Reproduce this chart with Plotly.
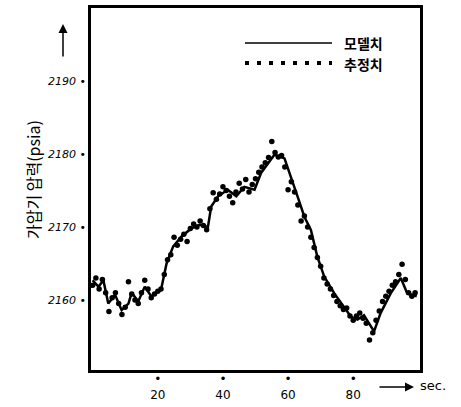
import plotly.graph_objects as go

# model curve (모델치)
model_t = [0, 1.8, 3.3, 4.8, 6.9, 8.9, 11, 12, 14, 16, 18, 21, 22.7, 24.7, 27.3, 30.3,
           32.9, 35.4, 36.4, 38.5, 41.5, 44.1, 46.6, 49.7, 51.7, 53.8, 55.8, 58.9, 60.9,
           62.9, 65, 67, 69, 71.1, 74.2, 77.2, 79.3, 81.3, 83.3, 86.4, 88.4, 91.5, 94.6,
           96.6, 99.5]
model_v = [2162.7, 2161.8, 2162.7, 2159.5, 2160.7, 2158.6, 2159.5, 2161.0, 2159.8, 2161.8,
           2160.5, 2161.4, 2165.0, 2167.3, 2168.7, 2169.8, 2170.3, 2170.0, 2172.8, 2174.2,
           2175.1, 2174.2, 2175.5, 2175.1, 2177.4, 2178.7, 2179.9, 2179.4, 2176.9, 2174.2,
           2171.4, 2169.6, 2165.9, 2163.2, 2160.9, 2159.1, 2157.7, 2157.3, 2157.9, 2155.7,
           2158.2, 2160.9, 2163.0, 2160.9, 2160.5]

# measured / estimated points (추정치)
meas_t = list(range(100))
meas_v = [2162.0, 2163.0, 2161.5, 2162.8, 2161.0, 2158.4, 2160.3, 2161.0, 2159.5, 2158.0,
          2159.0, 2162.5, 2160.8, 2160.0, 2159.5, 2161.0, 2162.7, 2161.5, 2160.3, 2160.8,
          2161.2, 2161.5, 2163.5, 2165.5, 2166.2, 2168.6, 2167.5, 2168.3, 2169.0, 2168.0,
          2169.8, 2170.4, 2170.0, 2170.8, 2170.2, 2169.6, 2172.5, 2174.7, 2173.8, 2174.5,
          2175.5, 2175.0, 2174.2, 2173.3, 2174.8, 2176.0, 2175.2, 2176.5, 2174.8, 2175.8,
          2176.6, 2177.5, 2178.2, 2178.8, 2179.5, 2181.7, 2180.2, 2179.6, 2179.8, 2178.2,
          2175.1, 2176.2, 2174.8, 2173.0, 2170.8, 2171.5, 2170.0, 2168.6, 2167.2, 2165.8,
          2164.6, 2163.0, 2162.2, 2161.5, 2160.6, 2159.8, 2159.2, 2158.7, 2158.9, 2157.8,
          2157.2, 2157.8, 2158.2, 2157.5, 2156.8, 2154.5, 2155.5, 2157.2, 2158.5, 2159.8,
          2160.5, 2161.2, 2162.0, 2162.5, 2163.5, 2164.9, 2162.8, 2161.0, 2160.5, 2161.0]

x_ticks = [20, 40, 60, 80]
y_ticks = [2160, 2170, 2180, 2190]

W, H = 461, 407
L, R, T, B = 91, 41, 8, 37

fig = go.Figure()
fig.add_trace(go.Scatter(x=model_t, y=model_v, mode="lines",
                         line=dict(color="black", width=2.5), showlegend=False))
fig.add_trace(go.Scatter(x=meas_t, y=meas_v, mode="markers",
                         marker=dict(color="black", size=5.5), showlegend=False))

hand = "DejaVu Sans"
fig.update_layout(
    width=W, height=H, margin=dict(l=L, r=R, t=T, b=B),
    paper_bgcolor="white", plot_bgcolor="white",
    xaxis=dict(range=[-0.5, 100.5], showgrid=False, zeroline=False, automargin=False,
               showline=True, linecolor="black", linewidth=2.5, mirror=True,
               tickvals=x_ticks, ticktext=["•<br>%d" % v for v in x_ticks],
               ticks="", ticklabelstandoff=-4,
               tickfont=dict(family=hand, size=12, color="black")),
    yaxis=dict(range=[2150.4, 2200], showgrid=False, zeroline=False, automargin=False,
               showline=True, linecolor="black", linewidth=2.5, mirror=True,
               tickvals=y_ticks, ticktext=["<i>%d</i> •" % v for v in y_ticks],
               ticks="", tickfont=dict(family=hand, size=11, color="black")),
    showlegend=False,
)

def px(xp):
    return (xp - L) / (W - L - R)

def py(yp):
    return 1 - (yp - T) / (H - T - B)

# legend drawn by hand
fig.add_shape(type="line", xref="paper", yref="paper",
              x0=px(245), x1=px(332), y0=py(43), y1=py(43),
              line=dict(color="black", width=1.5))
fig.add_shape(type="line", xref="paper", yref="paper",
              x0=px(245), x1=px(332), y0=py(63), y1=py(63),
              line=dict(color="black", width=4, dash="4px,8px"))
fig.add_annotation(xref="paper", yref="paper", x=px(342), y=py(43), text="<b>모델치</b>",
                   showarrow=False, xanchor="left", yanchor="middle",
                   font=dict(family="Noto Sans CJK KR", size=14, color="black"))
fig.add_annotation(xref="paper", yref="paper", x=px(342), y=py(64), text="<b>추정치</b>",
                   showarrow=False, xanchor="left", yanchor="middle",
                   font=dict(family="Noto Sans CJK KR", size=14, color="black"))

# y axis title
fig.add_annotation(xref="paper", yref="paper", x=px(19), y=py(180),
                   text="가압기 압력(psia)", textangle=-90, showarrow=False,
                   font=dict(family="Noto Sans CJK KR", size=16, color="black"))

# upward arrow
fig.add_annotation(xref="paper", yref="paper", x=px(63), y=py(24), ax=0, ay=34,
                   text="", showarrow=True, arrowhead=2, arrowsize=1.2,
                   arrowwidth=1.5, arrowcolor="black")
# right arrow and sec.
fig.add_annotation(xref="paper", yref="paper", x=px(414), y=py(387), ax=-36, ay=0,
                   text="", showarrow=True, arrowhead=2, arrowsize=1.2,
                   arrowwidth=1.5, arrowcolor="black")
fig.add_annotation(xref="paper", yref="paper", x=px(418), y=py(385), text="sec.",
                   showarrow=False, xanchor="left", yanchor="middle",
                   font=dict(family=hand, size=13, color="black"))

fig.write_html("out.html", config={"displayModeBar": False},
               post_script="document.body.style.margin='0';document.body.style.overflow='hidden';")
